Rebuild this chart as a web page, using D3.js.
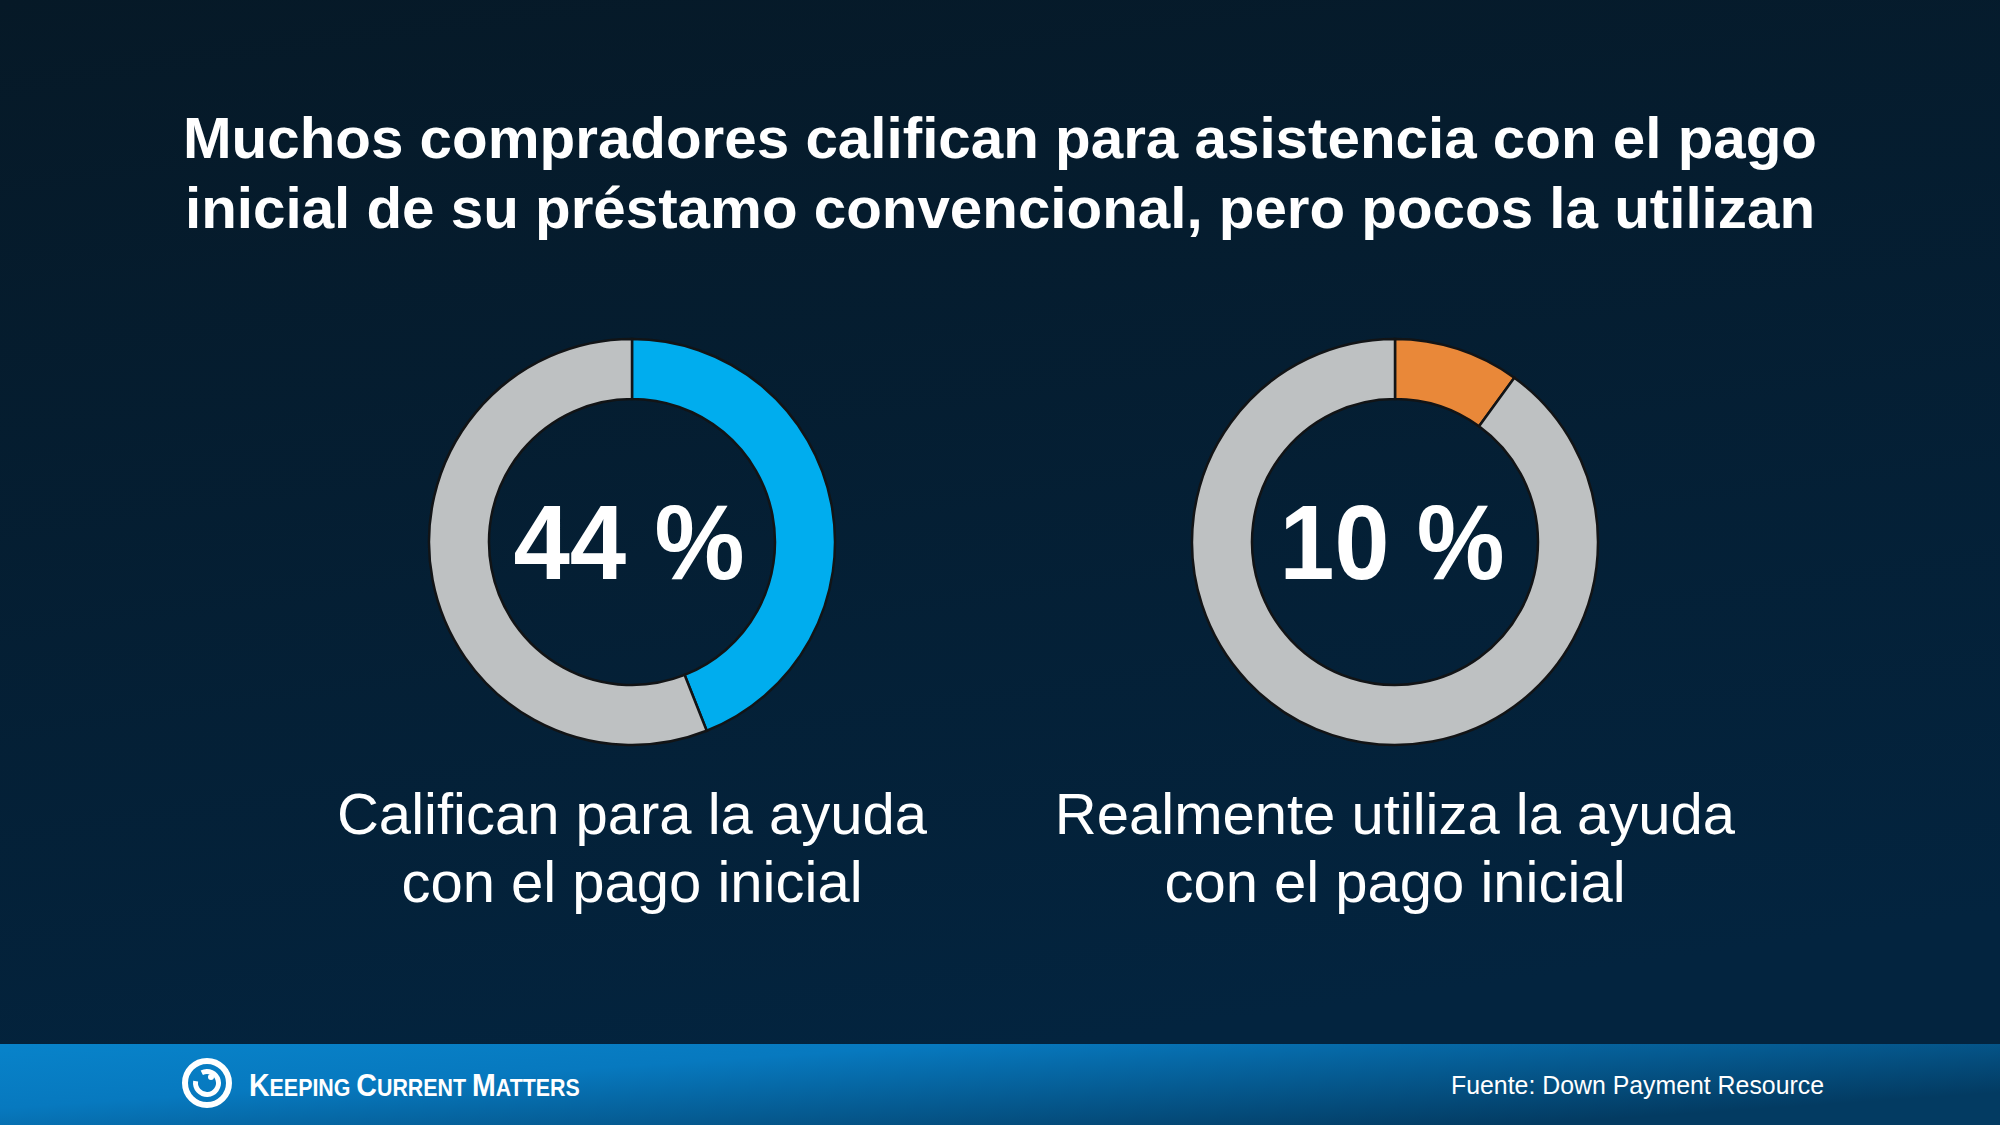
<!DOCTYPE html>
<html>
<head>
<meta charset="utf-8">
<script src="https://cdn.jsdelivr.net/npm/d3@7"></script>
<style>
  html, body { margin: 0; padding: 0; background: #041c2e; }
  svg { display: block; }
</style>
</head>
<body>
<div id="container"></div>
<script>
// chart data
const titleLines = [
    "Muchos compradores califican para asistencia con el pago",
    "inicial de su préstamo convencional, pero pocos la utilizan"
];
const shares = [44, 10];
const shareLabels = ["44 %", "10 %"];
const captions = [
    ["Califican para la ayuda", "con el pago inicial"],
    ["Realmente utiliza la ayuda", "con el pago inicial"]
];
const accentColors = ["#00adee", "#e98839"];
const restColor = "#bec1c2";
const sourceText = "Fuente: Down Payment Resource";

const w = 2000;
const h = 1125;
const footerTop = 1044;

const svg = d3.select('#container').append('svg')
    .attr('width', w)
    .attr('height', h);

const defs = svg.append('defs');

const bg = defs.append('linearGradient')
    .attr('id', 'bg')
    .attr('x1', '0').attr('y1', '0')
    .attr('x2', '0.25').attr('y2', '1');
bg.append('stop').attr('offset', '0%').attr('stop-color', '#061927');
bg.append('stop').attr('offset', '100%').attr('stop-color', '#03243f');

const foot = defs.append('linearGradient')
    .attr('id', 'foot')
    .attr('x1', '0').attr('y1', '0')
    .attr('x2', '1').attr('y2', '0.6');
foot.append('stop').attr('offset', '0%').attr('stop-color', '#0883ca');
foot.append('stop').attr('offset', '35%').attr('stop-color', '#0779bf');
foot.append('stop').attr('offset', '100%').attr('stop-color', '#033b62');

svg.append('rect')
    .attr('width', w)
    .attr('height', h)
    .attr('fill', 'url(#bg)');

// title
svg.append('g')
    .selectAll('text')
    .data(titleLines)
    .enter()
    .append('text')
    .attr('x', 1000)
    .attr('y', (d, i) => 158 + i * 70)
    .attr('text-anchor', 'middle')
    .attr('fill', '#ffffff')
    .attr('font-family', 'Liberation Sans, Arial, sans-serif')
    .attr('font-weight', 'bold')
    .attr('font-size', 57)
    .attr('textLength', (d, i) => [1634, 1630][i])
    .attr('lengthAdjust', 'spacingAndGlyphs')
    .text(d => d);

// donuts
const centers = d3.scalePoint()
    .domain(d3.range(shares.length))
    .range([632, 1395]);

const pie = d3.pie()
    .sort(null)
    .value(d => d);

const arc = d3.arc()
    .innerRadius(143)
    .outerRadius(203);

shares.forEach((v, i) => {
    const g = svg.append('g')
        .attr('transform', `translate(${centers(i)}, 542)`);

    g.selectAll('path')
        .data(pie([v, 100 - v]))
        .enter()
        .append('path')
        .attr('d', arc)
        .attr('fill', (d, j) => j === 0 ? accentColors[i] : restColor)
        .attr('stroke', '#121416')
        .attr('stroke-width', 2.5);

    g.append('text')
        .attr('x', -3)
        .attr('y', 37)
        .attr('text-anchor', 'middle')
        .attr('fill', '#ffffff')
        .attr('font-family', 'Liberation Sans, Arial, sans-serif')
        .attr('font-weight', 'bold')
        .attr('font-size', 106)
        .attr('textLength', [231, 225][i])
        .attr('lengthAdjust', 'spacingAndGlyphs')
        .text(shareLabels[i]);

    svg.append('g')
        .selectAll('text')
        .data(captions[i])
        .enter()
        .append('text')
        .attr('x', centers(i))
        .attr('y', (d, k) => 834 + k * 68)
        .attr('text-anchor', 'middle')
        .attr('fill', '#ffffff')
        .attr('font-family', 'Liberation Sans, Arial, sans-serif')
        .attr('font-size', 58)
        .text(d => d);
});

// footer
svg.append('rect')
    .attr('x', 0)
    .attr('y', footerTop)
    .attr('width', w)
    .attr('height', h - footerTop)
    .attr('fill', 'url(#foot)');

const logo = svg.append('g')
    .attr('transform', 'translate(207, 1083)');

logo.append('circle')
    .attr('r', 22)
    .attr('fill', 'none')
    .attr('stroke', '#ffffff')
    .attr('stroke-width', 6);

logo.append('path')
    .attr('d', d3.arc()
        .innerRadius(9)
        .outerRadius(14)
        .startAngle(-Math.PI * 0.15)
        .endAngle(Math.PI * 1.55))
    .attr('fill', '#ffffff');

logo.append('circle')
    .attr('cx', 4)
    .attr('cy', -6)
    .attr('r', 3)
    .attr('fill', '#ffffff');

const brand = svg.append('text')
    .attr('x', 0)
    .attr('y', 0)
    .attr('fill', '#ffffff')
    .attr('font-family', 'Liberation Sans Narrow, Liberation Sans, Arial, sans-serif')
    .attr('font-weight', 'bold');

[["K", 32], ["EEPING ", 24], ["C", 32], ["URRENT ", 24], ["M", 32], ["ATTERS", 24]]
    .forEach(([t, s]) => {
        brand.append('tspan')
            .attr('font-size', s)
            .text(t);
    });

const brandWidth = brand.node().getComputedTextLength();
brand.attr('transform', `translate(249, 1096) scale(${331 / brandWidth}, 1)`);

svg.append('text')
    .attr('x', 1824)
    .attr('y', 1094)
    .attr('text-anchor', 'end')
    .attr('fill', '#ffffff')
    .attr('font-family', 'Liberation Sans, Arial, sans-serif')
    .attr('font-size', 26)
    .attr('textLength', 373)
    .attr('lengthAdjust', 'spacingAndGlyphs')
    .text(sourceText);
</script>
</body>
</html>
